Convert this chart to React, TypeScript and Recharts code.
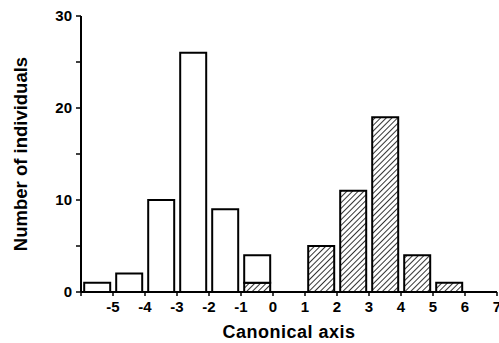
import React from 'react';
import { BarChart, Bar, XAxis, YAxis } from 'recharts';

// bin centres along the canonical axis (bins are 1 unit wide)
const binCentres = [-5.5, -4.5, -3.5, -2.5, -1.5, -0.5, 0.5, 1.5, 2.5, 3.5, 4.5, 5.5, 6.5];
// open bars (first group)
const openCounts = [1, 2, 10, 26, 9, 3, 0, 0, 0, 0, 0, 0, 0];
// hatched bars (second group)
const hatchedCounts = [0, 0, 0, 0, 0, 1, 0, 5, 11, 19, 4, 1, 0];

const xTicks = [-6, -5, -4, -3, -2, -1, 0, 1, 2, 3, 4, 5, 6, 7];
const yTicks = [0, 5, 10, 15, 20, 25, 30];

const data = binCentres.map((c, i) => ({
  x: c,
  open: openCounts[i],
  hatched: hatchedCounts[i],
}));

const FONT = '"Liberation Sans", Arial, Helvetica, sans-serif';

const XTick = (props: any) => {
  const { x, y, payload } = props;
  if (payload.value === -6) return null;
  return (
    <text x={x} y={y + 14} textAnchor="middle" fontFamily={FONT} fontWeight="bold" fontSize={15} fill="#000">
      {payload.value}
    </text>
  );
};

const YTick = (props: any) => {
  const { x, y, payload } = props;
  if (payload.value % 10 !== 0) return null;
  return (
    <text x={x - 2} y={y + 5} textAnchor="end" fontFamily={FONT} fontWeight="bold" fontSize={15} fill="#000">
      {payload.value}
    </text>
  );
};

export default function App() {
  return (
    <div style={{ position: 'absolute', left: 0, top: 0, background: '#fff' }}>
      <BarChart
        width={499}
        height={343}
        data={data}
        margin={{ top: 16, right: 2, left: 0, bottom: 0 }}
        barCategoryGap="10%"
      >
        <defs>
          <pattern id="hatch" width="4" height="4" patternUnits="userSpaceOnUse" patternTransform="rotate(45)">
            <rect width="4" height="4" fill="#fff" />
            <line x1="0" y1="0" x2="0" y2="4" stroke="#000" strokeWidth="1.6" />
          </pattern>
        </defs>
        <XAxis
          dataKey="x"
          type="number"
          domain={[-6, 7]}
          ticks={xTicks}
          interval={0}
          height={51}
          axisLine={{ stroke: '#000', strokeWidth: 2 }}
          tickLine={{ stroke: '#000', strokeWidth: 1.5 }}
          tickSize={4}
          tick={<XTick />}
          label={{
            value: 'Canonical axis',
            position: 'insideBottom',
            offset: 5,
            style: { fontFamily: FONT, fontWeight: 'bold', fontSize: 18, letterSpacing: 0.5, fill: '#000' },
          }}
        />
        <YAxis
          type="number"
          domain={[0, 30]}
          ticks={yTicks}
          interval={0}
          width={81}
          axisLine={{ stroke: '#000', strokeWidth: 2 }}
          tickLine={{ stroke: '#000', strokeWidth: 1.5 }}
          tickSize={5}
          tick={<YTick />}
          label={{
            value: 'Number of individuals',
            angle: -90,
            position: 'insideLeft',
            offset: 20,
            style: { textAnchor: 'middle', fontFamily: FONT, fontWeight: 'bold', fontSize: 18.5, fill: '#000' },
          }}
        />
        <Bar dataKey="hatched" stackId="a" fill="url(#hatch)" stroke="#000" strokeWidth={2} isAnimationActive={false} />
        <Bar dataKey="open" stackId="a" fill="#fff" stroke="#000" strokeWidth={2} isAnimationActive={false} />
      </BarChart>
    </div>
  );
}
